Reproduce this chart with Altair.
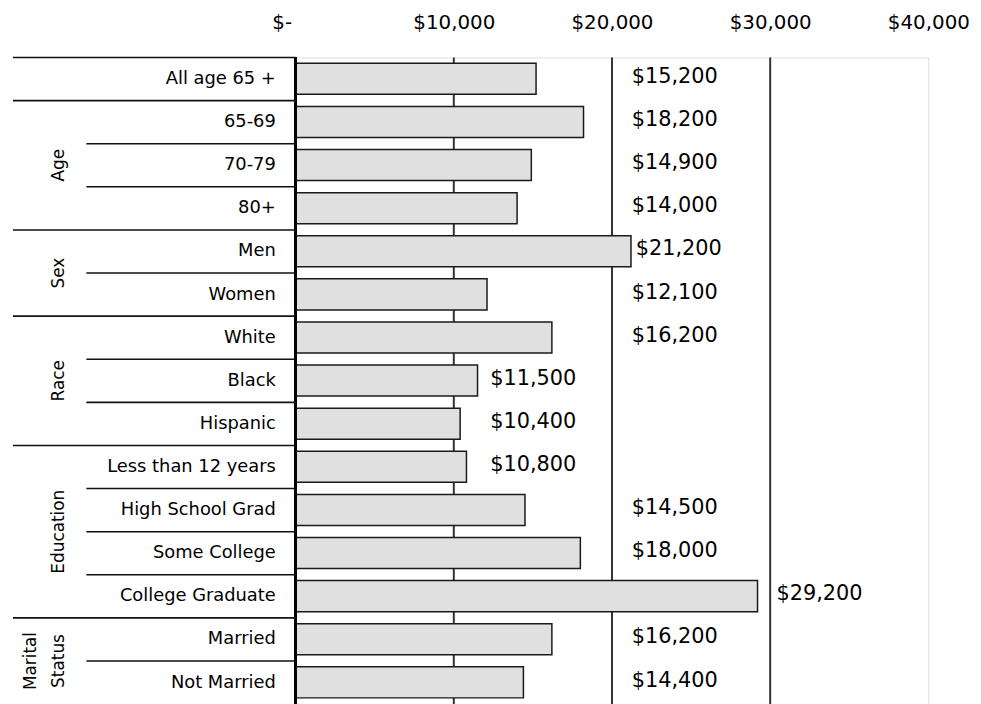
import altair as alt
import pandas as pd

# ---- data ----
rows = ["All age 65 +", "65-69", "70-79", "80+", "Men", "Women", "White", "Black",
        "Hispanic", "Less than 12 years", "High School Grad", "Some College",
        "College Graduate", "Married", "Not Married"]
values = [15200, 18200, 14900, 14000, 21200, 12100, 16200, 11500, 10400, 10800,
          14500, 18000, 29200, 16200, 14400]
groups = ["", "Age", "Age", "Age", "Sex", "Sex", "Race", "Race", "Race",
          "Education", "Education", "Education", "Education",
          "Marital Status", "Marital Status"]
group_lines = {"Age": ["Age"], "Sex": ["Sex"], "Race": ["Race"],
               "Education": ["Education"], "Marital Status": ["Marital", "Status"]}
x_ticks = [0, 10000, 20000, 30000, 40000]
grid_values = [10000, 20000, 30000]

df = pd.DataFrame({"row": rows, "value": values, "group": groups})
df["idx"] = range(len(rows))
df["group_start"] = [i == 0 or groups[i] != groups[i - 1] for i in range(len(rows))]

grp = (df[df.group != ""].groupby("group", sort=False)["idx"]
       .agg(["min", "max"]).reset_index())
grp["mid"] = (grp["min"] + grp["max"] + 1) / 2
line_recs = []
for _, r in grp.iterrows():
    lines = group_lines[r["group"]]
    for k, t in enumerate(lines):
        line_recs.append({"text": t, "mid": r["mid"], "shift": len(lines) - 1 - k})
glines = pd.DataFrame(line_recs)

W, H = 638, 652
FONT = "DejaVu Sans"
xscale = alt.Scale(domain=[0, 40000], nice=False, zero=True)
yscale = alt.Scale(domain=[0, len(rows)], reverse=True, nice=False, zero=False)
xaxis = alt.Axis(orient="top", values=x_ticks, title=None, ticks=False, tickSize=0,
                 domain=False, grid=False, labelFont=FONT, labelFontSize=20,
                 labelColor="#000", labelPadding=25, labelFlush=False,
                 labelOverlap=False,
                 labelAlign={"condition": {"test": "datum.value == 0", "value": "right"},
                             "value": "center"},
                 labelOffset={"condition": {"test": "datum.value == 0", "value": -4},
                              "value": 0},
                 labelExpr="datum.value == 0 ? '$-' : '$' + format(datum.value, ',')")

grid = alt.Chart(pd.DataFrame({"g": grid_values})).mark_rule(
    color="#333333", strokeWidth=2).encode(
    x=alt.X("g:Q", scale=xscale, axis=xaxis), y=alt.value(0), y2=alt.value(H + 10))

base = alt.Chart(df).transform_calculate(
    y0="datum.idx + 0.135", y1="datum.idx + 0.855", yc="datum.idx + 0.5",
    label="'$' + format(datum.value, ',')",
    lx="datum.value < 12000 ? 12300 : (datum.value > 25000 ? datum.value + 1200 : "
       "(datum.value > 20000 ? datum.value + 300 : 21250))")

bars = base.mark_rect(fill="#e0e0e0", stroke="#1a1a1a", strokeWidth=1.5).encode(
    x=alt.X("value:Q", scale=xscale, axis=xaxis), x2=alt.datum(0),
    y=alt.Y("y0:Q", scale=yscale, axis=None), y2="y1:Q")

left_line = alt.Chart(df).mark_rule(color="#000", strokeWidth=2).encode(
    x=alt.value(0), y=alt.value(0), y2=alt.value(H + 10))

long_sep = base.transform_filter("datum.group_start").mark_rule(
    color="#111", strokeWidth=1.6).encode(
    x=alt.value(-285), x2=alt.value(0), y=alt.Y("idx:Q", scale=yscale, axis=None))
short_sep = base.transform_filter("!datum.group_start").mark_rule(
    color="#111", strokeWidth=1.6).encode(
    x=alt.value(-211), x2=alt.value(0), y=alt.Y("idx:Q", scale=yscale, axis=None))

value_labels = base.mark_text(align="left", baseline="middle", dy=-2, font=FONT,
                              fontSize=21, color="#000").encode(
    x=alt.X("lx:Q", scale=xscale, axis=xaxis),
    y=alt.Y("yc:Q", scale=yscale, axis=None), text="label:N")

row_labels = base.mark_text(align="right", baseline="middle", font=FONT,
                            fontSize=18, color="#000").encode(
    x=alt.value(-20), y=alt.Y("yc:Q", scale=yscale, axis=None), text="row:N")

glabel_base = alt.Chart(glines)
group_last = glabel_base.transform_filter("datum.shift == 0").mark_text(
    angle=270, align="center", baseline="bottom", font=FONT, fontSize=17,
    color="#000").encode(
    x=alt.value(-230), y=alt.Y("mid:Q", scale=yscale, axis=None), text="text:N")
group_first = glabel_base.transform_filter("datum.shift == 1").mark_text(
    angle=270, align="center", baseline="bottom", font=FONT, fontSize=17,
    color="#000").encode(
    x=alt.value(-258), y=alt.Y("mid:Q", scale=yscale, axis=None), text="text:N")

chart = alt.layer(grid, bars, left_line, long_sep, short_sep, value_labels,
                  row_labels, group_last, group_first).properties(
    width=W, height=H,
    autosize=alt.AutoSizeParams(type="none"),
    padding={"left": 290, "top": 47, "right": 45, "bottom": 0},
    background="#ffffff",
).configure_view(stroke="#999999", strokeWidth=1.5).configure(font=FONT)

chart.save("out.html", embed_options={"renderer": "svg", "actions": False})
